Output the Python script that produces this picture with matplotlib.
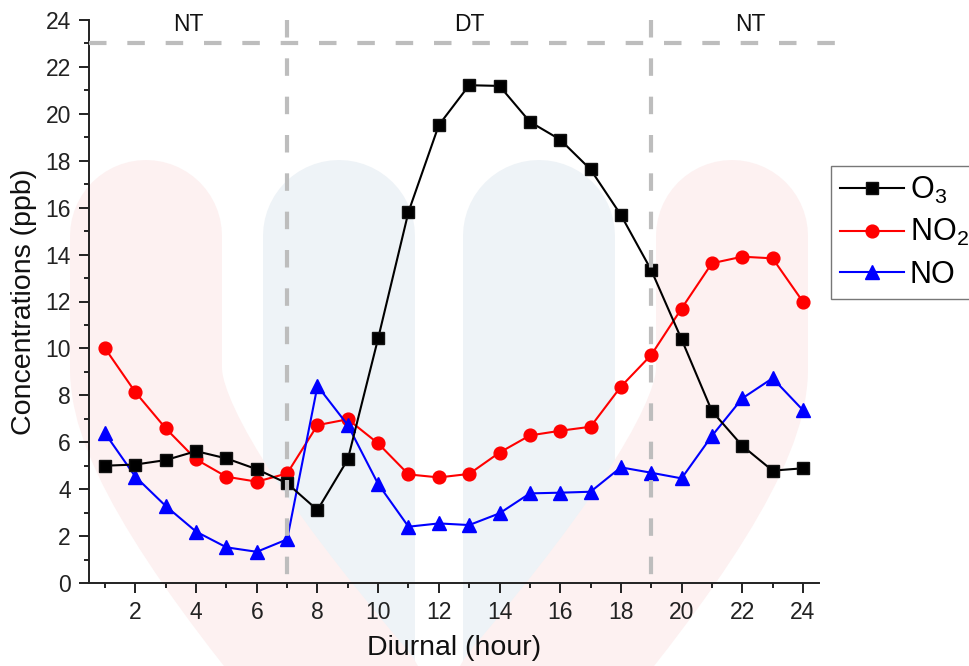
import matplotlib
matplotlib.use("Agg")
import matplotlib.pyplot as plt
from matplotlib.path import Path
from matplotlib.patches import PathPatch
from matplotlib.ticker import MultipleLocator

plt.rcParams['font.family'] = ['Liberation Sans', 'DejaVu Sans']
plt.rcParams['mathtext.fontset'] = 'custom'
plt.rcParams['mathtext.rm'] = 'Liberation Sans'

# Diurnal hourly means (ppb)
hours = list(range(1, 25))
o3 = [5.0, 5.05, 5.24, 5.62, 5.31, 4.85, 4.25, 3.11, 5.27, 10.43, 15.82, 19.52,
      21.22, 21.19, 19.66, 18.9, 17.63, 15.69, 13.34, 10.39, 7.33, 5.85, 4.79, 4.89]
no2 = [10.0, 8.13, 6.59, 5.27, 4.53, 4.32, 4.67, 6.73, 6.98, 5.95, 4.63, 4.5,
       4.65, 5.56, 6.29, 6.49, 6.66, 8.37, 9.72, 11.7, 13.63, 13.91, 13.84, 11.99]
no = [6.38, 4.53, 3.28, 2.19, 1.52, 1.33, 1.86, 8.4, 6.73, 4.22, 2.4, 2.54,
      2.47, 2.97, 3.82, 3.85, 3.89, 4.93, 4.7, 4.46, 6.27, 7.87, 8.73, 7.37]

series_labels = [r'$\mathregular{O_3}$', r'$\mathregular{NO_2}$', 'NO']
period_bounds = [7, 19]
period_names = ['NT', 'DT', 'NT']
period_centers = [3.75, 13.0, 22.25]

W, H = 969, 666
fig = plt.figure(figsize=(W / 100, H / 100), dpi=100)


def fpt(x, y):
    return (x / W, 1 - y / H)


# faint background emblem
def band(points, codes, color):
    path = Path([fpt(*p) for p in points], codes)
    patch = PathPatch(path, transform=fig.transFigure, facecolor='none',
                      edgecolor=color, lw=152 * 0.72, capstyle='round',
                      joinstyle='round', zorder=-5)
    fig.add_artist(patch)


blue = '#eef3f7'
pink = '#fdf1f1'
band([(339, 236), (339, 720)], [Path.MOVETO, Path.LINETO], blue)
band([(539, 236), (539, 720)], [Path.MOVETO, Path.LINETO], blue)
band([(146, 236), (146, 370), (146, 460), (350, 700)],
     [Path.MOVETO, Path.LINETO, Path.CURVE3, Path.CURVE3], pink)
band([(732, 236), (732, 370), (732, 460), (528, 700)],
     [Path.MOVETO, Path.LINETO, Path.CURVE3, Path.CURVE3], pink)

ax = fig.add_axes([89 / W, 1 - 583 / H, (819 - 89) / W, (583 - 20) / H])
ax.set_facecolor('none')

ax.plot(hours, o3, color='black', lw=1.5, marker='s', ms=8.8,
        mfc='black', mec='#111111', label=series_labels[0], zorder=4)
ax.plot(hours, no2, color='red', lw=1.5, marker='o', ms=9.2,
        mfc='red', mec='red', label=series_labels[1], zorder=3)
ax.plot(hours, no, color='blue', lw=1.5, marker='^', ms=10,
        mfc='blue', mec='blue', label=series_labels[2], zorder=3)

xmin, xmax = 0.47, 24.53
ax.set_xlim(xmin, xmax)
ax.set_ylim(0, 24)

dash_kw = dict(color='#bdbdbd', lw=3, ls=(0, (4.2, 5.0)), zorder=6, clip_on=False)
ax.plot([xmin, 25.5], [23, 23], **dash_kw)
for xb in period_bounds:
    ax.plot([xb, xb], [24, -0.2], **dash_kw)

for xc, name in zip(period_centers, period_names):
    ax.text(xc, 23.8, name, ha='center', va='center', fontsize=16.5, color='#111111')

for side in ['top', 'right']:
    ax.spines[side].set_visible(False)
for side in ['left', 'bottom']:
    ax.spines[side].set_linewidth(1.4)
    ax.spines[side].set_color('#222222')

ax.xaxis.set_major_locator(MultipleLocator(2))
ax.xaxis.set_minor_locator(MultipleLocator(1))
ax.yaxis.set_major_locator(MultipleLocator(2))
ax.yaxis.set_minor_locator(MultipleLocator(1))
ax.tick_params(which='major', direction='out', length=7, width=1.4,
               labelsize=16.5, color='#222222', labelcolor='#222222', pad=6)
ax.tick_params(which='minor', direction='out', length=3.8, width=1.4,
               color='#222222')

ax.set_xlabel('Diurnal (hour)', fontsize=20.5, color='#111111', labelpad=8)
ax.set_ylabel('Concentrations (ppb)', fontsize=20.5, color='#111111', labelpad=6)

leg = fig.legend(loc='upper left', bbox_to_anchor=(831 / W, 1 - 166 / H),
                 fontsize=22, frameon=True, fancybox=False, handlelength=2.1,
                 handletextpad=0.2, borderpad=0.28, labelspacing=0.38,
                 borderaxespad=0)
leg.get_frame().set_edgecolor('#555555')
leg.get_frame().set_linewidth(1.0)

fig.savefig('out.png', dpi=100)
